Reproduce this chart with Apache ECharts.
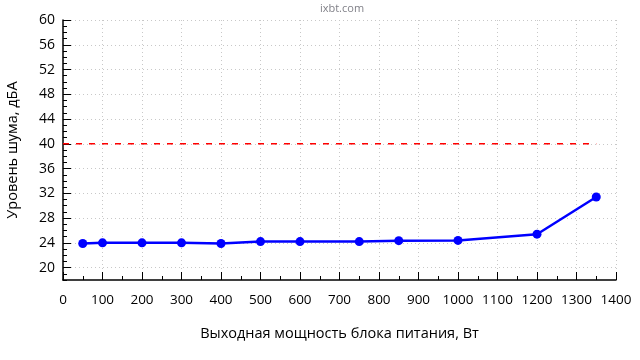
<!DOCTYPE html>
<html>
<head>
<meta charset="utf-8">
<script src="https://cdn.jsdelivr.net/npm/echarts@6/dist/echarts.min.js"></script>
<style>html,body{margin:0;padding:0;background:#fff}#c{width:640px;height:360px}</style>
</head>
<body>
<div id="c"></div>
<script>
var powerW = [50, 100, 200, 300, 400, 500, 600, 750, 850, 1000, 1200, 1350];
var noiseDb = [23.9, 24.0, 24.0, 24.0, 23.9, 24.2, 24.2, 24.2, 24.35, 24.4, 25.4, 31.4];
var limitX = [0, 1350];
var limitY = [40, 40];
var yTickLabels = [20, 24, 28, 32, 36, 40, 44, 48, 52, 56, 60];
var xTitle = 'Выходная мощность блока питания, Вт';
var yTitle = 'Уровень шума, дБА';
var siteTitle = 'ixbt.com';

var FONT = '"Open Sans", "Noto Sans", sans-serif';
var chart = echarts.init(document.getElementById('c'), null, {renderer: 'canvas'});
chart.setOption({
  animation: false,
  backgroundColor: '#fff',
  title: {
    text: siteTitle, left: 337, top: -2, textAlign: 'center',
    textStyle: {fontFamily: FONT, fontSize: 11, fontWeight: 'normal', color: '#808088'}
  },
  grid: {left: 63, right: 24, top: 20, bottom: 80, containLabel: false, outerBoundsMode: 'none'},
  xAxis: {
    type: 'value', min: 0, max: 1400, interval: 100,
    name: xTitle, nameLocation: 'middle', nameGap: 46,
    nameTextStyle: {fontFamily: FONT, fontSize: 14.5, color: '#000'},
    axisLine: {show: true, lineStyle: {color: '#000', width: 1.5}},
    axisTick: {show: true, inside: true, length: 8, lineStyle: {color: '#000', width: 1}},
    minorTick: {show: true, splitNumber: 2, length: 4, lineStyle: {color: '#000', width: 1}},
    axisLabel: {fontFamily: FONT, fontSize: 13.5, color: '#000', margin: 13,
      formatter: function (v) { return String(v); }},
    splitLine: {show: true, lineStyle: {color: '#c8c8c8', type: [1, 3], width: 1}}
  },
  yAxis: [{
    type: 'value', min: 18, max: 60, position: 'left',
    name: yTitle, nameLocation: 'middle', nameGap: 43,
    nameTextStyle: {fontFamily: FONT, fontSize: 14.5, color: '#000'},
    axisLine: {show: true, lineStyle: {color: '#000', width: 1.5}},
    axisTick: {show: true, inside: true, length: 8, customValues: yTickLabels, lineStyle: {color: '#000', width: 1}},
    axisLabel: {fontFamily: FONT, fontSize: 14, color: '#000', margin: 8, customValues: yTickLabels},
    splitLine: {show: true, lineStyle: {color: '#c8c8c8', type: [1, 3], width: 1}}
  }, {
    type: 'value', min: 18, max: 60, interval: 1, position: 'left',
    axisLine: {show: false},
    axisTick: {show: true, inside: true, length: 4, lineStyle: {color: '#000', width: 1}},
    axisLabel: {show: false},
    splitLine: {show: false}
  }],
  series: [{
    type: 'line',
    data: limitX.map(function (x, i) { return [x, limitY[i]]; }),
    symbol: 'none',
    lineStyle: {color: '#ff0000', width: 1.5, type: [6, 7]},
    z: 1
  }, {
    type: 'line',
    data: powerW.map(function (x, i) { return [x, noiseDb[i]]; }),
    symbol: 'circle', symbolSize: 9,
    itemStyle: {color: '#0000ff'},
    lineStyle: {color: '#0000ff', width: 2.5},
    z: 3
  }]
});
</script>
</body>
</html>
